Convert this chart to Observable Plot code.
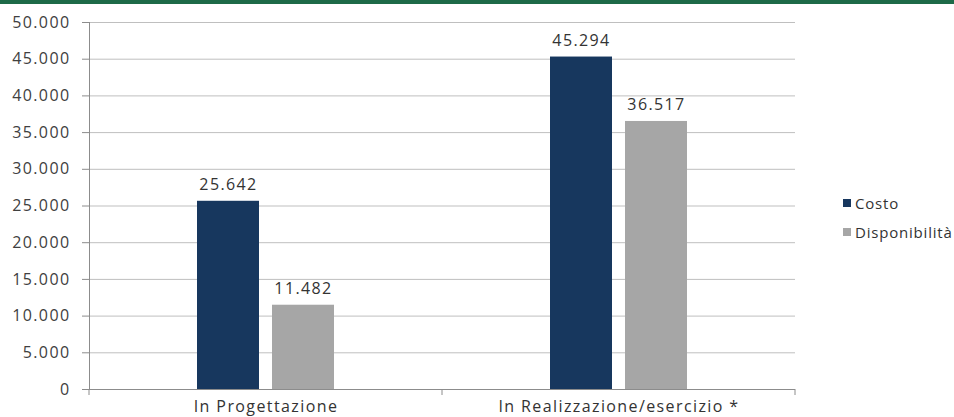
<!DOCTYPE html>
<html><head><meta charset="utf-8">
<script src="https://cdn.jsdelivr.net/npm/d3@7"></script>
<script src="https://cdn.jsdelivr.net/npm/@observablehq/plot@0.6"></script>
<style>
html,body{margin:0;padding:0;background:#fff;}
#wrap{position:relative;width:954px;height:417px;overflow:hidden;font-family:"Open Sans",sans-serif;}
#wrap svg text{letter-spacing:1.4px;}
#band{position:absolute;left:0;top:0;width:954px;height:4px;background:#1d6a48;}
#legend{position:absolute;left:843px;top:188px;font-size:15px;color:#333;letter-spacing:0.8px;}
#legend div{display:flex;align-items:center;height:29px;}
#legend span.sw{display:inline-block;width:8px;height:8px;margin-right:4px;}
</style></head>
<body><div id="wrap"><div id="band"></div><div id="legend"></div></div>
<script>
const categories = ["In Progettazione", "In Realizzazione/esercizio *"];
const series = ["Costo", "Disponibilità"];
const costo = [25642, 45294];
const disponibilita = [11482, 36517];
const yTicks = [0, 5000, 10000, 15000, 20000, 25000, 30000, 35000, 40000, 45000, 50000];
const colors = ["#17375e", "#a6a6a6"];

const it = d3.formatLocale({decimal: ",", thousands: ".", grouping: [3], currency: ["€", ""]});
const fmt = it.format(",d");

const data = categories.flatMap((c, i) => [
  {cat: c, serie: series[0], value: costo[i]},
  {cat: c, serie: series[1], value: disponibilita[i]}
]);

const chart = Plot.plot({
  width: 954, height: 417,
  marginLeft: 88, marginRight: 159, marginTop: 22, marginBottom: 28,
  style: {fontFamily: "'Open Sans', sans-serif", fontSize: "16px", color: "#333", background: "transparent"},
  fx: {domain: categories, padding: 0, label: null, axis: null},
  x: {domain: series, paddingInner: 0.171, paddingOuter: 1.41, axis: null},
  y: {domain: [0, 50000], label: null, axis: null},
  color: {domain: series, range: colors},
  marks: [
    Plot.gridY(yTicks, {stroke: "#bfbfbf", strokeOpacity: 1}),
    Plot.barY(data, {fx: "cat", x: "serie", y: "value", fill: "serie"}),
    Plot.text(data, {fx: "cat", x: "serie", y: "value", text: d => fmt(d.value), dy: -11, lineAnchor: "bottom", fontSize: 16, fill: "#333"}),
    Plot.ruleY([0], {stroke: "#8c8c8c"}),
    Plot.axisY(yTicks, {tickFormat: fmt, tickSize: 7, tickPadding: 12, stroke: "#8c8c8c", fill: "#404040", fontSize: 16, label: null}),
    Plot.axisFx({anchor: "bottom", tickSize: 0, tickPadding: 11, fontSize: 16, fill: "#333", label: null}),
    Plot.frame({anchor: "left", stroke: "#8c8c8c", facetAnchor: "left"})
  ]
});
document.getElementById("wrap").appendChild(chart);

// boundary ticks under the category axis, from the fx scale
const fx = chart.scale("fx"), y = chart.scale("y");
const svg = d3.select(chart);
const y0 = y.apply(0);
const edges = [fx.apply(categories[0]), fx.apply(categories[1]), fx.apply(categories[1]) + fx.bandwidth];
svg.append("g").attr("stroke", "#8c8c8c").selectAll("line").data(edges).join("line")
  .attr("x1", d => d).attr("x2", d => d).attr("y1", y0).attr("y2", y0 + 6);

// legend
const lg = d3.select("#legend");
series.forEach((s, i) => {
  const row = lg.append("div");
  row.append("span").attr("class", "sw").style("background", colors[i]);
  row.append("span").text(s);
});
</script></body></html>
